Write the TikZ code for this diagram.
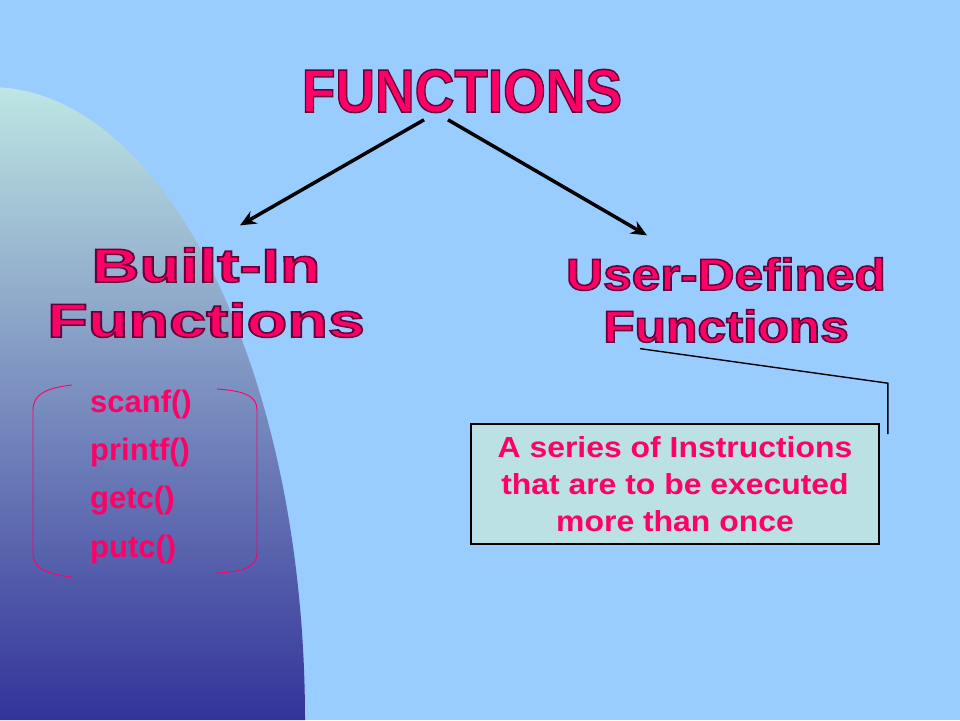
\documentclass[tikz,border=0pt]{standalone}
\usepackage{fontspec}
\setmainfont{Liberation Sans}
\usetikzlibrary{positioning, arrows.meta, calc}

\definecolor{bgblue}{HTML}{99CCFF}
\definecolor{fpink}{HTML}{FF0066}
\definecolor{boxcyan}{HTML}{BBE1E4}
\definecolor{shtop}{HTML}{BEE6E4}
\definecolor{shbot}{HTML}{333399}
% outlined text (fill pink, dark stroke)
\newcommand{\wart}[1]{\special{pdf:literal direct 2 Tr 1.5 w 0.4 0 0.227 RG}#1\special{pdf:literal direct 0 Tr}}

\begin{document}
\begin{tikzpicture}[x=1pt, y=-1pt,
    wordart/.style={text=fpink, inner sep=0pt, align=center},
    item/.style={text=fpink, inner sep=0pt, font=\fontsize{31}{31}\selectfont\bfseries},
    arr/.style={line width=3.5pt, -{Stealth[length=16pt,width=14pt]}},
    brk/.style={fpink, line width=0.9pt},
    ]
    \useasboundingbox (0,0) rectangle (960,720);
    \fill[bgblue] (0,0) rectangle (960,720);
    \shade[top color=shtop, bottom color=shbot] (-10,720) -- (-10,87)
        arc[start angle=-90, end angle=0, x radius=315, y radius=633] -- cycle;

    % headings
    \node[wordart, anchor=base, xscale=0.9, font=\fontsize{61}{61}\selectfont\bfseries] (title) at (462,112) {\wart{FUNCTIONS}};
    \node[wordart, anchor=base, xscale=1.4, font=\fontsize{47.5}{55}\selectfont\bfseries] (builtin) at (206,337) {\wart{Built-In}\\\wart{Functions}};
    \node[wordart, anchor=base, xscale=1.15, font=\fontsize{44.7}{52}\selectfont\bfseries] (userdef) at (726,342) {\wart{User-Defined}\\\wart{Functions}};

    \draw[arr] ([xshift=-38pt,yshift=-7pt]title.south) -- ([xshift=34pt,yshift=22pt]builtin.north);
    \draw[arr] ([xshift=-14pt,yshift=-7pt]title.south) -- ([xshift=-79pt,yshift=22pt]userdef.north);

    % built-in list
    \node[item, anchor=base west] (f1) at (90,412) {scanf()};
    \node[item, below right=19pt and 0pt of f1.south west] (f2) {printf()};
    \node[item, below right=19pt and 0pt of f2.south west] (f3) {getc()};
    \node[item, below right=19pt and 0pt of f3.south west] (f4) {putc()};

    \draw[brk] (72,385) .. controls (45,388) and (33,395) .. (33,410) -- (33,553)
        .. controls (33,568) and (45,574) .. (72,577);
    \draw[brk] (217,389) .. controls (245,391) and (257,396) .. (257,410) -- (257,553)
        .. controls (257,566) and (245,572) .. (217,573);

    % user-defined note
    \node[draw=black, line width=1.6pt, fill=boxcyan, text=fpink, align=center, inner sep=0pt,
        font=\fontsize{29}{37}\selectfont\bfseries, xscale=1.1, minimum width=371pt, minimum height=120pt]
        (desc) at (675,484) {A series of Instructions\\that are to be executed\\more than once};

    \draw[line width=1.4pt] ([xshift=-86pt,yshift=-6pt]userdef.south)
        -- ([xshift=8pt,yshift=40pt]desc.north east) -- ([xshift=8pt,yshift=-11pt]desc.north east);
\end{tikzpicture}
\end{document}
